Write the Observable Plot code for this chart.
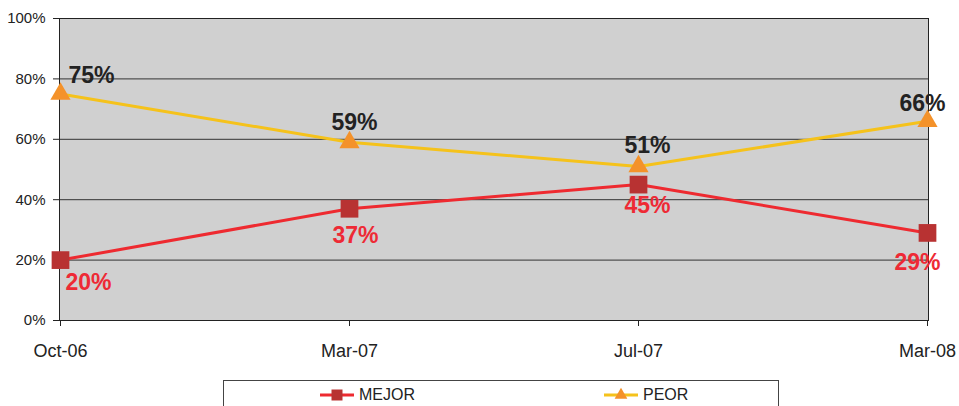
<!DOCTYPE html>
<html><head><meta charset="utf-8">
<script src="https://cdn.jsdelivr.net/npm/d3@7"></script>
<script src="https://cdn.jsdelivr.net/npm/@observablehq/plot@0.6"></script>
<style>
body{margin:0;background:#fff;font-family:"Liberation Sans",Arial,sans-serif;}
#wrap{position:relative;width:959px;height:406px;overflow:hidden;}
#wrap svg.plot{position:absolute;left:0;top:0;}
#legend{position:absolute;left:223px;top:380px;width:556px;height:40px;border:1px solid #444;box-sizing:border-box;background:#fff;}
.item{position:absolute;top:5px;height:18px;display:flex;align-items:center;font-size:16px;color:#222;}
.item svg{margin-right:5px;}
</style></head><body><div id="wrap"></div>
<script>
const periods = ["Oct-06","Mar-07","Jul-07","Mar-08"];
const mejor = [20,37,45,29];
const peor = [75,59,51,66];
const yTicks = [0,20,40,60,80,100];
const seriesNames = ["MEJOR","PEOR"];

const mejorRows = periods.map((p,i)=>({period:p, value:mejor[i], i}));
const peorRows = periods.map((p,i)=>({period:p, value:peor[i], i}));

const RED_LINE = "#ee2a30", RED_MARK = "#b83232", RED_TEXT = "#ee2a35";
const YEL_LINE = "#f5c21b", ORA_MARK = "#f4922a";
const FONT = "'Liberation Sans', Arial, sans-serif";

const lbl = (rows, i, dx, dy, fill, anchor="middle") => Plot.text(rows.filter(d=>d.i===i), {
  x:"period", y:"value", text:d=>d.value+"%", dx, dy, fill, textAnchor:anchor,
  fontSize:23, fontWeight:"bold"
});

const chart = Plot.plot({
  width:959, height:372,
  marginLeft:59, marginRight:31, marginTop:18, marginBottom:52,
  style:{fontFamily:FONT, background:"transparent", overflow:"visible"},
  x:{type:"point", domain:periods, padding:0, label:null},
  y:{domain:[0,100], label:null},
  marks:[
    Plot.frame({fill:"#d0d0d0"}),
    Plot.ruleY(yTicks,{stroke:"#333", strokeWidth:1}),
    Plot.frame({stroke:"#222"}),
    Plot.axisY({ticks:yTicks, tickFormat:d=>d+"%", tickSize:6, tickPadding:8, fontSize:15, color:"#222", label:null}),
    Plot.axisX({tickSize:6, tickPadding:18, fontSize:18, color:"#222", label:null}),
    Plot.lineY(mejorRows,{x:"period", y:"value", stroke:RED_LINE, strokeWidth:3}),
    Plot.dot(mejorRows,{x:"period", y:"value", symbol:"square", r:10, fill:RED_MARK, stroke:"none"}),
    Plot.lineY(peorRows,{x:"period", y:"value", stroke:YEL_LINE, strokeWidth:3}),
    Plot.dot(peorRows,{x:"period", y:"value", symbol:"triangle", r:7.5, fill:ORA_MARK, stroke:"none"}),
    lbl(peorRows,0,8,-18,"#222","start"),
    lbl(peorRows,1,5,-20,"#222"),
    lbl(peorRows,2,9,-21,"#222"),
    lbl(peorRows,3,-5,-18,"#222"),
    lbl(mejorRows,0,5,23,RED_TEXT,"start"),
    lbl(mejorRows,1,6,27,RED_TEXT),
    lbl(mejorRows,2,9,21,RED_TEXT),
    lbl(mejorRows,3,-10,30,RED_TEXT)
  ]
});
const wrap = document.getElementById("wrap");
wrap.appendChild(chart);

// legend
const legend = document.createElement("div");
legend.id = "legend";
const items = [
  {name:seriesNames[0], line:RED_LINE, mark:RED_MARK, shape:"square", left:96},
  {name:seriesNames[1], line:YEL_LINE, mark:ORA_MARK, shape:"triangle", left:380}
];
for (const it of items) {
  const div = document.createElement("div");
  div.className = "item";
  div.style.left = it.left + "px";
  const ns = "http://www.w3.org/2000/svg";
  const s = document.createElementNS(ns,"svg");
  s.setAttribute("width",34); s.setAttribute("height",18);
  const ln = document.createElementNS(ns,"line");
  ln.setAttribute("x1",0); ln.setAttribute("x2",34); ln.setAttribute("y1",9); ln.setAttribute("y2",9);
  ln.setAttribute("stroke",it.line); ln.setAttribute("stroke-width",3);
  s.appendChild(ln);
  const p = document.createElementNS(ns,"path");
  p.setAttribute("transform","translate(17,9)");
  p.setAttribute("d", d3.symbol(it.shape==="square"?d3.symbolSquare:d3.symbolTriangle, it.shape==="square"?121:70)());
  p.setAttribute("fill",it.mark);
  s.appendChild(p);
  div.appendChild(s);
  const t = document.createElement("span");
  t.textContent = it.name;
  div.appendChild(t);
  legend.appendChild(div);
}
wrap.appendChild(legend);
</script></body></html>
